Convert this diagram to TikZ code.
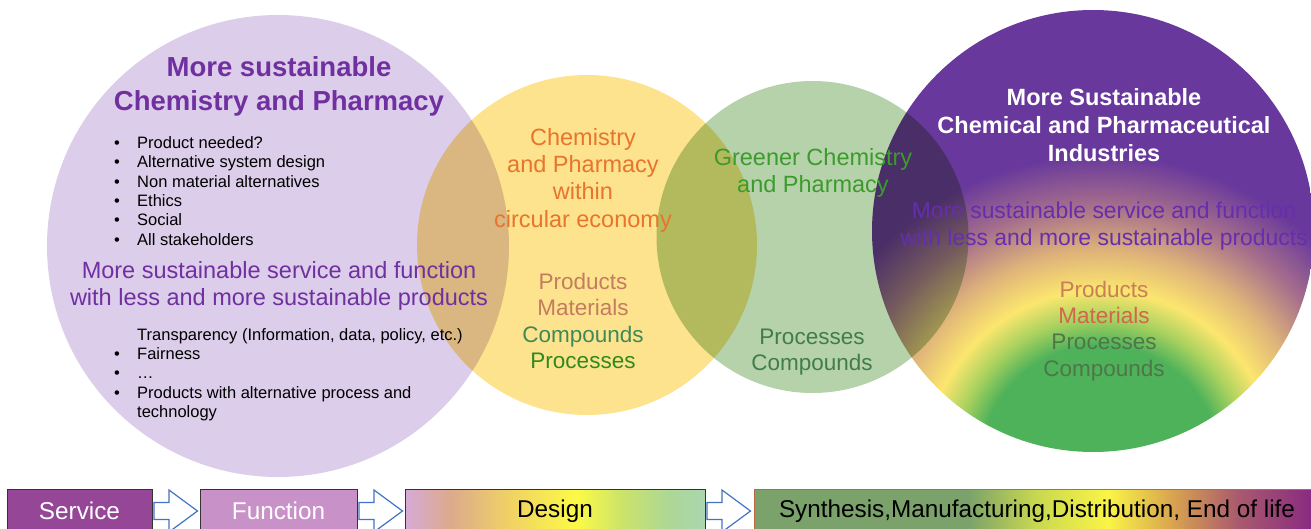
\documentclass[tikz,border=0pt]{standalone}
\usepackage{fontspec}
\setmainfont{Liberation Sans}
\usetikzlibrary{calc}
\definecolor{lav}{RGB}{220,205,234}
\definecolor{yel}{RGB}{253,227,141}
\definecolor{grn}{RGB}{181,210,171}
\definecolor{tpurple}{RGB}{112,48,160}
\definecolor{rpurple}{RGB}{104,56,156}
\definecolor{orng}{RGB}{232,116,45}
\definecolor{tanc}{RGB}{196,124,94}
\definecolor{cgreen}{RGB}{62,138,86}
\definecolor{pgreen}{RGB}{46,138,30}
\definecolor{ggreen}{RGB}{60,155,44}
\definecolor{dgreen}{RGB}{65,124,76}
\definecolor{rtan}{RGB}{200,126,88}
\definecolor{rred}{RGB}{208,102,78}
\definecolor{rgreen}{RGB}{78,118,72}
\definecolor{rtext}{RGB}{102,46,172}
\definecolor{svc}{RGB}{150,70,150}
\definecolor{fnc}{RGB}{200,145,200}
\definecolor{arrowblue}{RGB}{68,114,196}
\definecolor{lastborder}{RGB}{185,105,65}
% radial shading stops
\definecolor{rg0}{RGB}{78,178,90}
\definecolor{rg1}{RGB}{170,210,95}
\definecolor{rg2}{RGB}{252,230,110}
\definecolor{rg3}{RGB}{222,178,122}
\definecolor{rg4}{RGB}{165,110,140}
\pgfdeclareradialshading{rshade}{\pgfpointorigin}{color(0bp)=(rg0); color(5.36bp)=(rg0); color(6.56bp)=(rg1); color(7.81bp)=(rg2); color(9.6bp)=(rg3); color(11.6bp)=(rg4); color(13.84bp)=(rpurple); color(50bp)=(rpurple)}
% design shading
\definecolor{d0}{RGB}{215,170,215}
\definecolor{d1}{RGB}{220,170,140}
\definecolor{d2}{RGB}{240,210,100}
\definecolor{d3}{RGB}{252,250,70}
\definecolor{d4}{RGB}{205,228,105}
\definecolor{d5}{RGB}{172,215,150}
\definecolor{d6}{RGB}{170,215,175}
\pgfdeclarehorizontalshading{dshade}{100bp}{color(0bp)=(d0); color(25bp)=(d0); color(32.5bp)=(d1); color(42.5bp)=(d2); color(53.5bp)=(d3); color(61bp)=(d4); color(69bp)=(d5); color(75bp)=(d6); color(100bp)=(d6)}
% last box shading
\definecolor{e0}{RGB}{122,162,106}
\definecolor{e1}{RGB}{200,215,80}
\definecolor{e2}{RGB}{250,245,70}
\definecolor{e3}{RGB}{215,160,80}
\definecolor{e4}{RGB}{170,90,110}
\definecolor{e5}{RGB}{135,40,130}
\pgfdeclarehorizontalshading{eshade}{100bp}{color(0bp)=(e0); color(25bp)=(e0); color(44bp)=(e0); color(50bp)=(e1); color(56.5bp)=(e2); color(62.5bp)=(e3); color(68bp)=(e4); color(75bp)=(e5); color(100bp)=(e5)}
\newcommand\lbul{\makebox[23pt][l]{•}}
\newcommand\lind{\hspace*{23pt}}
\begin{document}
\begin{tikzpicture}[x=1pt,y=-1pt,
  txt/.style={inner sep=0pt, align=center},
  title/.style={txt, text=tpurple, font={\fontsize{27.5}{34}\selectfont\bfseries}},
  listtxt/.style={inner sep=0pt, align=left, anchor=west, text=black, font={\fontsize{16.5}{19.3}\selectfont}},
  bigtxt/.style={txt, font={\fontsize{23.5}{27.3}\selectfont}},
  medtxt/.style={txt, font={\fontsize{22.5}{26.2}\selectfont}},
  stagebox/.style={draw=black!80, line width=1pt, minimum height=44pt, inner sep=0pt, font={\fontsize{24.3}{28}\selectfont}},
  blockarrow/.style={draw=arrowblue, fill=white, line width=1.2pt, line join=miter}
]
\useasboundingbox (0,0) rectangle (1311,529);
\clip (0,0) rectangle (1311,529);
% right circle with radial gradient
\begin{scope}
  \clip (1093,231) circle[radius=221];
  \shade[shading=rshade] (1100,465) circle[radius=560];
\end{scope}
% translucent circles (multiply)
\begin{scope}[blend mode=multiply]
  \fill[lav] (278,246) circle[radius=231];
  \fill[yel] (587,245) circle[radius=170];
  \fill[grn] (812.5,237) circle[radius=156];
\end{scope}
% left circle texts
\node[title] (lt) at (279,86) {More sustainable\\Chemistry and Pharmacy};
\node[listtxt] (l1) at (114,191) {\lbul Product needed?\\\lbul Alternative system design\\\lbul Non material alternatives\\\lbul Ethics\\\lbul Social\\\lbul All stakeholders};
\node[bigtxt, text=tpurple] (lm) at (279,286) {More sustainable service and function\\with less and more sustainable products};
\node[listtxt] (l2) at (114,374.5) {\lind Transparency (Information, data, policy, etc.)\\\lbul Fairness\\\lbul …\\\lbul Products with alternative process and\\\lind technology};
% yellow circle texts
\node[bigtxt, text=orng] (y1) at (583,180) {Chemistry\\and Pharmacy\\within\\circular economy};
\node[medtxt] (y2) at (583,321) {\textcolor{tanc}{Products}\\\textcolor{tanc}{Materials}\\\textcolor{cgreen}{Compounds}\\\textcolor{pgreen}{Processes}};
% green circle texts
\node[bigtxt, text=ggreen] (g1) at (813,173) {Greener Chemistry\\and Pharmacy};
\node[medtxt, text=dgreen] (g2) at (812,352) {Processes\\Compounds};
% right circle texts
\node[txt, text=white, font={\fontsize{23.5}{28}\selectfont\bfseries}] (r1) at (1104,125) {More Sustainable\\Chemical and Pharmaceutical\\Industries};
\node[txt, text=rtext, font={\fontsize{22.9}{27}\selectfont}] (r2) at (1104,226) {More sustainable service and function\\with less and more sustainable products};
\node[medtxt] (r3) at (1104,331) {\textcolor{rtan}{Products}\\\textcolor{rred}{Materials}\\\textcolor{rgreen}{Processes}\\\textcolor{rgreen}{Compounds}};
% bottom stages
\node[stagebox, fill=svc, text=white, minimum width=145pt] (sv) at (79.5,511) {Service};
\node[stagebox, fill=fnc, text=white, minimum width=157pt] (fn) at (278.5,511) {Function};
\node[stagebox, shade, shading=dshade, text=black, minimum width=300pt] (ds) at (555,511) {Design};
\node[stagebox, draw=lastborder, shade, shading=eshade, text=black, minimum width=562pt] (sy) at (1035,511) {\hspace*{4pt}Synthesis,Manufacturing,Distribution, End of life};
% block arrows
\foreach \a in {sv,fn,ds}{
  \draw[blockarrow] ($(\a.east)+(1.5,-8.5)$) -- ++(15,0) -- ++(0,-12.5) -- ++(28.5,21) -- ++(-28.5,21) -- ++(0,-12.5) -- ++(-15,0) -- cycle;
}
\end{tikzpicture}
\end{document}
